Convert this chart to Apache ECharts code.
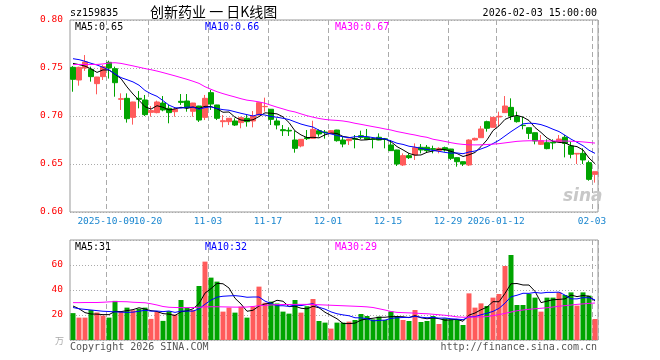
<!DOCTYPE html>
<html><head><meta charset="utf-8">
<script src="https://cdn.jsdelivr.net/npm/echarts@6/dist/echarts.min.js"></script>
<style>html,body{margin:0;padding:0;background:#fff}#c{width:660px;height:360px}</style>
</head><body><div id="c"></div>
<script>
const dates = ['2025-09-23','2025-09-24','2025-09-25','2025-09-26','2025-09-29','2025-09-30',
'2025-10-09','2025-10-10','2025-10-13','2025-10-14','2025-10-15','2025-10-16','2025-10-17','2025-10-20','2025-10-21','2025-10-22','2025-10-23','2025-10-24','2025-10-27','2025-10-28','2025-10-29','2025-10-30','2025-10-31',
'2025-11-03','2025-11-04','2025-11-05','2025-11-06','2025-11-07','2025-11-10','2025-11-11','2025-11-12','2025-11-13','2025-11-14','2025-11-17','2025-11-18','2025-11-19','2025-11-20','2025-11-21','2025-11-24','2025-11-25','2025-11-26','2025-11-27','2025-11-28',
'2025-12-01','2025-12-02','2025-12-03','2025-12-04','2025-12-05','2025-12-08','2025-12-09','2025-12-10','2025-12-11','2025-12-12','2025-12-15','2025-12-16','2025-12-17','2025-12-18','2025-12-19','2025-12-22','2025-12-23','2025-12-24','2025-12-25','2025-12-26','2025-12-29','2025-12-30','2025-12-31',
'2026-01-05','2026-01-06','2026-01-07','2026-01-08','2026-01-09','2026-01-12','2026-01-13','2026-01-14','2026-01-15','2026-01-16','2026-01-19','2026-01-20','2026-01-21','2026-01-22','2026-01-23','2026-01-26','2026-01-27','2026-01-28','2026-01-29','2026-01-30',
'2026-02-02','2026-02-03'];

const opens = [0.7507,0.7375,0.7500,0.7486,0.7337,0.7410,0.7559,0.7493,0.7174,0.7184,
0.6986,0.7184,0.7167,0.7038,0.7035,0.7135,0.7080,0.7045,0.7153,0.7156,
0.7049,0.7104,0.6986,0.7243,0.7115,0.6941,0.6941,0.6948,0.6931,0.6976,
0.6948,0.7010,0.7097,0.7070,0.6948,0.6858,0.6851,0.6750,0.6688,0.6774,
0.6767,0.6847,0.6833,0.6819,0.6854,0.6750,0.6743,0.6764,0.6795,0.6778,
0.6760,0.6778,0.6762,0.6698,0.6646,0.6490,0.6587,0.6594,0.6674,0.6674,
0.6660,0.6639,0.6670,0.6656,0.6566,0.6524,0.6490,0.6750,0.6774,0.6941,
0.6882,0.6990,0.7035,0.7090,0.6993,0.6903,0.6878,0.6826,0.6705,0.6722,
0.6726,0.6733,0.6778,0.6688,0.6604,0.6611,0.6514,0.6392];
const closes = [0.7382,0.7507,0.7563,0.7410,0.7406,0.7514,0.7500,0.7347,0.7180,0.6972,
0.7146,0.7174,0.7014,0.7056,0.7146,0.7063,0.7035,0.7070,0.7142,0.7087,
0.7135,0.6958,0.7184,0.7125,0.6976,0.6951,0.6976,0.6906,0.6983,0.6941,
0.7000,0.7139,0.7100,0.6965,0.6906,0.6847,0.6844,0.6663,0.6757,0.6764,
0.6861,0.6813,0.6826,0.6847,0.6743,0.6708,0.6760,0.6757,0.6778,0.6757,
0.6757,0.6750,0.6757,0.6639,0.6500,0.6587,0.6566,0.6670,0.6646,0.6639,
0.6653,0.6663,0.6646,0.6559,0.6524,0.6500,0.6750,0.6767,0.6865,0.6872,
0.6986,0.6997,0.7104,0.7000,0.6941,0.6900,0.6819,0.6740,0.6743,0.6660,
0.6719,0.6760,0.6715,0.6601,0.6611,0.6542,0.6340,0.6420];
const lows = [0.7253,0.7316,0.7470,0.7358,0.7226,0.7375,0.7390,0.7201,0.7063,0.6931,
0.6910,0.7080,0.7000,0.6993,0.7028,0.7049,0.6924,0.6993,0.7115,0.7045,
0.6993,0.6938,0.6958,0.7063,0.6958,0.6882,0.6906,0.6896,0.6872,0.6889,
0.6882,0.7007,0.7045,0.6906,0.6861,0.6792,0.6792,0.6618,0.6674,0.6750,
0.6764,0.6785,0.6764,0.6813,0.6733,0.6674,0.6698,0.6663,0.6760,0.6755,
0.6663,0.6748,0.6663,0.6637,0.6479,0.6479,0.6552,0.6542,0.6611,0.6618,
0.6611,0.6611,0.6629,0.6542,0.6472,0.6479,0.6479,0.6743,0.6772,0.6837,
0.6880,0.6896,0.7033,0.6958,0.6931,0.6861,0.6760,0.6705,0.6698,0.6653,
0.6653,0.6731,0.6569,0.6559,0.6500,0.6500,0.6326,0.6306];
const highs = [0.7520,0.7514,0.7635,0.7514,0.7408,0.7530,0.7576,0.7514,0.7236,0.7236,
0.7148,0.7260,0.7219,0.7104,0.7160,0.7208,0.7115,0.7087,0.7229,0.7229,
0.7137,0.7106,0.7219,0.7271,0.7117,0.7010,0.6978,0.6976,0.6993,0.7010,
0.7052,0.7141,0.7191,0.7072,0.6976,0.6906,0.6882,0.6847,0.6759,0.6854,
0.6951,0.6861,0.6854,0.6854,0.6856,0.6785,0.6762,0.6802,0.6847,0.6865,
0.6764,0.6819,0.6771,0.6750,0.6648,0.6611,0.6611,0.6715,0.6708,0.6698,
0.6691,0.6674,0.6681,0.6658,0.6568,0.6526,0.6757,0.6774,0.6896,0.6951,
0.6988,0.7045,0.7208,0.7184,0.7045,0.6993,0.6880,0.6828,0.6802,0.6757,
0.6757,0.6802,0.6802,0.6733,0.6613,0.6663,0.6535,0.6422];

const ma5 = [0.7548,0.7535,0.7520,0.7490,0.7454,0.7480,0.7479,0.7435,0.7389,0.7303,
0.7229,0.7164,0.7097,0.7072,0.7107,0.7091,0.7063,0.7074,0.7091,0.7079,
0.7094,0.7078,0.7101,0.7098,0.7076,0.7039,0.7042,0.6987,0.6958,0.6951,
0.6961,0.6994,0.7033,0.7029,0.7022,0.6991,0.6932,0.6845,0.6803,0.6775,
0.6778,0.6772,0.6804,0.6822,0.6818,0.6787,0.6777,0.6763,0.6749,0.6752,
0.6762,0.6760,0.6760,0.6732,0.6681,0.6647,0.6610,0.6592,0.6594,0.6622,
0.6635,0.6654,0.6649,0.6632,0.6609,0.6578,0.6596,0.6620,0.6681,0.6751,
0.6848,0.6897,0.6965,0.6992,0.7006,0.6988,0.6953,0.6880,0.6829,0.6772,
0.6736,0.6725,0.6720,0.6691,0.6681,0.6646,0.6562,0.6503];
const ma10 = [0.7597,0.7587,0.7570,0.7549,0.7531,0.7507,0.7480,0.7438,0.7400,0.7378,
0.7355,0.7321,0.7266,0.7231,0.7205,0.7160,0.7113,0.7086,0.7082,0.7093,
0.7092,0.7071,0.7088,0.7095,0.7078,0.7066,0.7060,0.7044,0.7028,0.7014,
0.7000,0.7018,0.7010,0.6994,0.6987,0.6976,0.6963,0.6939,0.6916,0.6899,
0.6885,0.6852,0.6825,0.6813,0.6797,0.6783,0.6774,0.6784,0.6786,0.6785,
0.6775,0.6768,0.6761,0.6741,0.6716,0.6704,0.6685,0.6676,0.6663,0.6651,
0.6641,0.6632,0.6621,0.6613,0.6615,0.6607,0.6625,0.6635,0.6657,0.6680,
0.6713,0.6747,0.6792,0.6837,0.6878,0.6918,0.6925,0.6922,0.6910,0.6889,
0.6862,0.6838,0.6799,0.6759,0.6726,0.6691,0.6643,0.6611];
const ma30 = [0.7535,0.7537,0.7537,0.7537,0.7537,0.7542,0.7552,0.7555,0.7548,0.7535,
0.7522,0.7508,0.7494,0.7482,0.7468,0.7452,0.7435,0.7418,0.7400,0.7382,
0.7362,0.7340,0.7305,0.7278,0.7253,0.7233,0.7215,0.7198,0.7180,0.7165,
0.7157,0.7147,0.7133,0.7112,0.7092,0.7074,0.7055,0.7042,0.7022,0.7003,
0.6988,0.6974,0.6964,0.6958,0.6954,0.6948,0.6938,0.6924,0.6913,0.6901,
0.6889,0.6878,0.6865,0.6854,0.6838,0.6826,0.6813,0.6802,0.6788,0.6778,
0.6758,0.6747,0.6735,0.6722,0.6711,0.6704,0.6700,0.6699,0.6700,0.6703,
0.6707,0.6712,0.6720,0.6728,0.6736,0.6740,0.6742,0.6742,0.6741,0.6740,
0.6740,0.6740,0.6739,0.6737,0.6735,0.6730,0.6724,0.6718];

const volumes = [21.5,17.9,17.9,24.0,22.0,19.5,17.9,31.3,22.8,25.9,
23.8,25.0,25.9,16.9,22.5,15.3,23.0,20.3,32.0,25.8,
24.0,43.2,62.7,49.9,46.7,22.7,25.9,21.9,26.7,17.9,
26.7,42.7,29.8,30.7,29.2,22.7,21.1,32.0,21.9,27.0,
32.8,15.2,13.9,9.1,13.9,13.9,14.7,16.0,20.8,19.2,
16.5,18.7,16.0,22.9,19.2,16.0,15.2,24.0,14.4,15.2,
19.2,12.8,17.3,16.5,16.5,12.0,37.3,25.9,29.3,27.2,
33.9,36.8,59.2,68.0,28.0,28.0,36.8,33.9,22.7,33.9,
33.9,38.1,36.0,38.1,27.5,38.1,35.5,16.8];
const vma5 = [27.2,25.0,21.9,20.8,20.7,20.3,20.3,22.9,22.7,23.5,
24.3,25.8,24.7,23.5,22.8,21.1,20.7,19.6,22.6,23.3,
25.0,29.1,37.5,41.1,45.3,45.0,41.6,33.4,28.8,23.0,
23.8,27.2,28.8,29.6,31.8,31.0,26.7,27.1,25.4,24.9,
27.0,25.8,22.2,19.6,17.0,13.2,13.1,13.5,15.9,16.9,
17.4,18.2,18.2,18.7,18.7,18.6,17.9,19.5,17.8,17.0,
17.6,17.1,15.8,16.2,16.5,15.0,19.9,21.6,24.2,26.3,
30.7,30.6,37.3,45.0,45.2,44.0,44.0,38.9,29.9,31.1,
32.2,32.5,32.9,36.0,34.7,35.6,35.0,31.2];
const vma10 = [26.0,25.0,24.5,24.0,23.5,23.0,22.8,22.5,22.3,22.1,
22.3,23.0,23.8,23.1,23.2,22.7,23.2,22.1,23.1,23.1,
23.1,24.9,28.6,31.9,34.3,35.0,35.3,35.5,35.0,34.2,
34.4,34.4,31.1,29.2,27.4,27.4,26.9,28.0,27.5,28.4,
29.0,26.2,24.7,22.5,21.0,20.1,19.4,17.8,17.7,17.0,
15.3,15.7,15.9,17.3,17.8,18.0,18.1,18.9,18.2,17.8,
18.1,17.5,17.6,17.0,16.7,16.3,18.5,18.7,20.2,21.4,
22.9,25.3,29.5,34.6,35.8,37.4,37.3,38.1,37.5,38.1,
38.1,38.3,35.9,32.9,32.9,33.9,33.8,32.1];
const vma30 = [29.9,29.9,30.0,30.0,30.0,30.2,30.5,30.7,30.7,30.6,
30.2,30.0,29.8,29.0,28.0,26.8,26.2,26.0,25.9,25.9,
26.0,26.2,26.5,26.6,26.6,26.5,26.4,26.3,26.3,26.4,
26.8,27.5,27.8,28.0,28.3,28.4,28.4,28.5,28.5,28.5,
28.4,28.2,28.0,27.8,27.6,27.4,27.2,27.0,26.8,26.5,
26.0,25.0,24.0,22.8,22.1,21.9,21.7,21.5,21.2,21.0,
20.6,20.2,19.8,19.2,18.5,18.2,18.3,18.4,18.5,18.7,
19.5,20.3,21.3,22.4,23.4,24.0,24.6,25.0,25.4,25.8,
26.4,27.0,27.5,28.0,28.5,28.9,29.3,29.6];

const tickDates = ['2025-10-09','2025-10-20','2025-11-03','2025-11-17','2025-12-01','2025-12-15','2025-12-29','2026-01-12','2026-02-03'];
const tickLabels = ['2025-10-09','10-20','11-03','11-17','12-01','12-15','12-29','2026-01-12','02-03'];
const priceTicks = {min:0.60, max:0.80, step:0.05};
const volTicks = {min:0, max:80, step:20};

const UP = '#ff5b5b', DOWN = '#00a400';
const MONO = '"DejaVu Sans Mono", monospace';
const isTick = (v) => tickDates.indexOf(v) >= 0;
const chart = echarts.init(document.getElementById('c'), null, {renderer:'canvas'});

const candleData = dates.map((d,i)=>[opens[i],closes[i],lows[i],highs[i]]);
const volData = volumes.map((v,i)=>({value:v, itemStyle:{color: closes[i]>=opens[i]?UP:DOWN}}));

function txt(x,y,text,color,opt){
  opt = opt||{};
  return {type:'text', x:x, y:y, silent:true, z:100,
    style:{text:text, fill:color, font:(opt.font||('10px '+MONO)), align:opt.align||'left', verticalAlign:'middle'}};
}
const labelStyle = {color:'#1a86cf', fontFamily:MONO, fontSize:9.5, margin:5, padding:[0,6,0,0], hideOverlap:false};

const option = {
  animation:false,
  backgroundColor:'#fff',
  grid:[
    {left:70, top:20, width:528, height:192, show:true, borderColor:'#999', borderWidth:1},
    {left:70, top:240, width:528, height:100, show:true, borderColor:'#999', borderWidth:1}
  ],
  xAxis:[
    {type:'category', gridIndex:0, data:dates, boundaryGap:true, position:'bottom',
     axisLine:{show:false}, axisTick:{show:false},
     axisLabel:Object.assign({interval:(i,v)=>isTick(v) && v!==tickDates[0],
       formatter:(v)=>tickLabels[tickDates.indexOf(v)]}, labelStyle),
     splitLine:{show:true, interval:(i,v)=>isTick(v), lineStyle:{color:'#aaa', type:[5,3], width:1}}},
    {type:'category', gridIndex:1, data:dates, boundaryGap:true,
     axisLine:{show:false}, axisTick:{show:false}, axisLabel:{show:false},
     splitLine:{show:true, interval:(i,v)=>isTick(v), lineStyle:{color:'#aaa', type:[5,3], width:1}}},
    {type:'category', gridIndex:0, data:dates, boundaryGap:true, position:'bottom', offset:0,
     axisLine:{show:false}, axisTick:{show:false}, splitLine:{show:false},
     axisLabel:Object.assign({interval:(i,v)=>v===tickDates[0],
       formatter:(v)=>tickLabels[0]}, labelStyle)}
  ],
  yAxis:[
    {type:'value', gridIndex:0, min:priceTicks.min, max:priceTicks.max, interval:priceTicks.step,
     axisLine:{show:false}, axisTick:{show:false},
     axisLabel:{formatter:(v)=>v.toFixed(2), color:'#ff0000', fontFamily:MONO, fontSize:9.5, margin:7},
     splitLine:{show:true, lineStyle:{color:'#aaa', type:[1,2]}}},
    {type:'value', gridIndex:1, min:volTicks.min, max:volTicks.max, interval:volTicks.step,
     axisLine:{show:false}, axisTick:{show:false},
     axisLabel:{formatter:(v)=>(v===0||v===80)?'':String(v), color:'#ff0000', fontFamily:MONO, fontSize:9.5, margin:7},
     splitLine:{show:true, lineStyle:{color:'#aaa', type:[1,2]}}}
  ],
  series:[
    {type:'candlestick', xAxisIndex:0, yAxisIndex:0, data:candleData, barWidth:5,
     itemStyle:{color:UP, color0:DOWN, borderColor:UP, borderColor0:DOWN, borderWidth:1}},
    {type:'line', xAxisIndex:0, yAxisIndex:0, data:ma5, showSymbol:false, symbol:'none', lineStyle:{color:'#000', width:1}, z:5},
    {type:'line', xAxisIndex:0, yAxisIndex:0, data:ma10, showSymbol:false, symbol:'none', lineStyle:{color:'#0000ff', width:1}, z:5},
    {type:'line', xAxisIndex:0, yAxisIndex:0, data:ma30, showSymbol:false, symbol:'none', lineStyle:{color:'#ff00ff', width:1}, z:5},
    {type:'bar', xAxisIndex:1, yAxisIndex:1, data:volData, barWidth:5},
    {type:'line', xAxisIndex:1, yAxisIndex:1, data:vma5, showSymbol:false, symbol:'none', lineStyle:{color:'#000', width:1}, z:5},
    {type:'line', xAxisIndex:1, yAxisIndex:1, data:vma10, showSymbol:false, symbol:'none', lineStyle:{color:'#0000ff', width:1}, z:5},
    {type:'line', xAxisIndex:1, yAxisIndex:1, data:vma30, showSymbol:false, symbol:'none', lineStyle:{color:'#ff00ff', width:1}, z:5}
  ],
  graphic:[
    txt(70,13,'sz159835','#000'),
    txt(150,12,'创新药业 一 日K线图','#000',{font:'14px "Noto Sans CJK SC"'}),
    txt(597,13,'2026-02-03 15:00:00','#000',{align:'right'}),
    txt(75,27,'MA5:0.65','#000'),
    txt(205,27,'MA10:0.66','#0000ff'),
    txt(335,27,'MA30:0.67','#ff00ff'),
    txt(75,247,'MA5:31','#000'),
    txt(205,247,'MA10:32','#0000ff'),
    txt(335,247,'MA30:29','#ff00ff'),
    txt(64,341,'万','#aaa',{font:'9px "Noto Sans CJK SC"', align:'right'}),
    txt(70,347,'Copyright 2026 SINA.COM','#555'),
    txt(597,347,'http://finance.sina.com.cn','#555',{align:'right'}),
    txt(563,197,'sina','#c8c8c8',{font:'italic bold 17px "DejaVu Sans"'})
  ]
};
chart.setOption(option);
</script>
</body></html>
